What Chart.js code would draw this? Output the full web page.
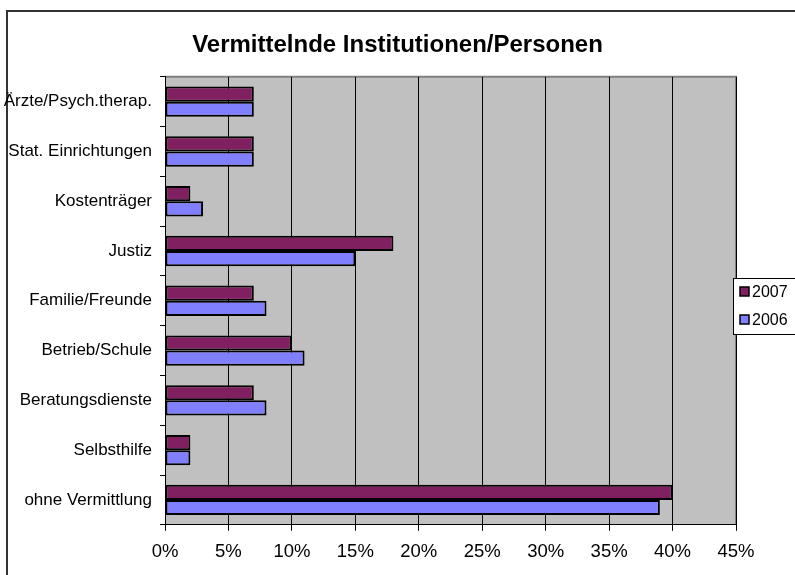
<!DOCTYPE html>
<html>
<head>
<meta charset="utf-8">
<script src="https://cdn.jsdelivr.net/npm/chart.js@4"></script>
<style>
  html, body { margin: 0; padding: 0; background: #fff; }
  #wrap { width: 795px; height: 575px; }
</style>
</head>
<body>
<div id="wrap"><canvas id="chart" width="795" height="575"></canvas></div>
<script>
const categories = [
  "Ärzte/Psych.therap.", "Stat. Einrichtungen", "Kostenträger", "Justiz",
  "Familie/Freunde", "Betrieb/Schule", "Beratungsdienste", "Selbsthilfe",
  "ohne Vermittlung",
];
const values2007 = [7, 7, 2, 18, 7, 10, 7, 2, 40];
const values2006 = [7, 7, 3, 15, 8, 11, 8, 2, 39];
const xTicks = [0, 5, 10, 15, 20, 25, 30, 35, 40, 45];

const FONT = "'Liberation Sans', Arial, sans-serif";

// grey plot area, outer frame and the boxed legend
const excelLook = {
  id: "excelLook",
  beforeDraw(chart) {
    const { ctx, chartArea: a } = chart;
    ctx.save();
    ctx.fillStyle = "#fff";
    ctx.fillRect(0, 0, chart.width, chart.height);
    ctx.strokeStyle = "#333";
    ctx.lineWidth = 2;
    ctx.strokeRect(7, 11, chart.width + 10, chart.height + 10);
    ctx.fillStyle = "#c0c0c0";
    ctx.fillRect(a.left, a.top, a.right - a.left, a.bottom - a.top);
    ctx.strokeStyle = "#808080";
    ctx.lineWidth = 2;
    ctx.beginPath();
    ctx.moveTo(a.left, a.top);
    ctx.lineTo(a.right, a.top);
    ctx.lineTo(a.right, a.bottom);
    ctx.stroke();
    ctx.restore();
  },
  afterDraw(chart) {
    const { ctx } = chart;
    const bx = 733, by = 278;
    ctx.save();
    ctx.fillStyle = "#fff";
    ctx.fillRect(bx, by, 70, 56);
    ctx.strokeStyle = "#000";
    ctx.lineWidth = 1;
    ctx.strokeRect(bx + 0.5, by + 0.5, 70, 56);
    ctx.font = "16px " + FONT;
    ctx.textBaseline = "middle";
    chart.data.datasets.forEach((ds, i) => {
      const cy = by + 14 + i * 28;
      ctx.fillStyle = ds.backgroundColor;
      ctx.fillRect(bx + 7, cy - 5, 9, 9);
      ctx.strokeStyle = "#000";
      ctx.lineWidth = 1.5;
      ctx.strokeRect(bx + 7, cy - 5, 9, 9);
      ctx.fillStyle = "#000";
      ctx.fillText(ds.label, bx + 19, cy + 1);
    });
    ctx.restore();
  },
};

new Chart(document.getElementById("chart"), {
  type: "bar",
  data: {
    labels: categories,
    datasets: [
      {
        label: "2007",
        data: values2007,
        backgroundColor: "#802060",
        borderColor: "#000",
        borderWidth: 2,
        borderSkipped: false,
      },
      {
        label: "2006",
        data: values2006,
        backgroundColor: "#8080ff",
        borderColor: "#000",
        borderWidth: 2,
        borderSkipped: false,
      },
    ],
  },
  options: {
    indexAxis: "y",
    responsive: false,
    animation: false,
    layout: { padding: { left: 0, right: 0, top: 0, bottom: 2 } },
    datasets: { bar: { categoryPercentage: 0.61, barPercentage: 1 } },
    scales: {
      x: {
        min: 0,
        max: 45,
        afterBuildTicks: (s) => { s.ticks = xTicks.map((v) => ({ value: v })); },
        grid: { color: "#000", lineWidth: 1, tickLength: 6, drawTicks: true },
        border: { color: "#000", width: 1 },
        ticks: {
          color: "#000",
          font: { family: FONT, size: 18.5 },
          padding: 10,
          callback: (v) => v + "%",
        },
      },
      y: {
        offset: true,
        afterFit: (s) => { s.width = 165; },
        grid: { offset: true, drawOnChartArea: false, color: "#000", tickLength: 5 },
        border: { color: "#000", width: 1 },
        ticks: { color: "#000", font: { family: FONT, size: 17 }, padding: 8 },
      },
      // empty right-hand axis that keeps room for the legend
      spacer: {
        axis: "y",
        position: "right",
        grid: { display: false, drawTicks: false },
        border: { display: false },
        ticks: { display: false },
        afterFit: (s) => { s.width = 59; },
      },
    },
    plugins: {
      legend: { display: false },
      tooltip: { enabled: false },
      title: {
        display: true,
        text: "Vermittelnde Institutionen/Personen",
        color: "#000",
        font: { family: FONT, size: 24, weight: "bold" },
        padding: { top: 31, bottom: 17 },
      },
    },
  },
  plugins: [excelLook],
});
</script>
</body>
</html>
